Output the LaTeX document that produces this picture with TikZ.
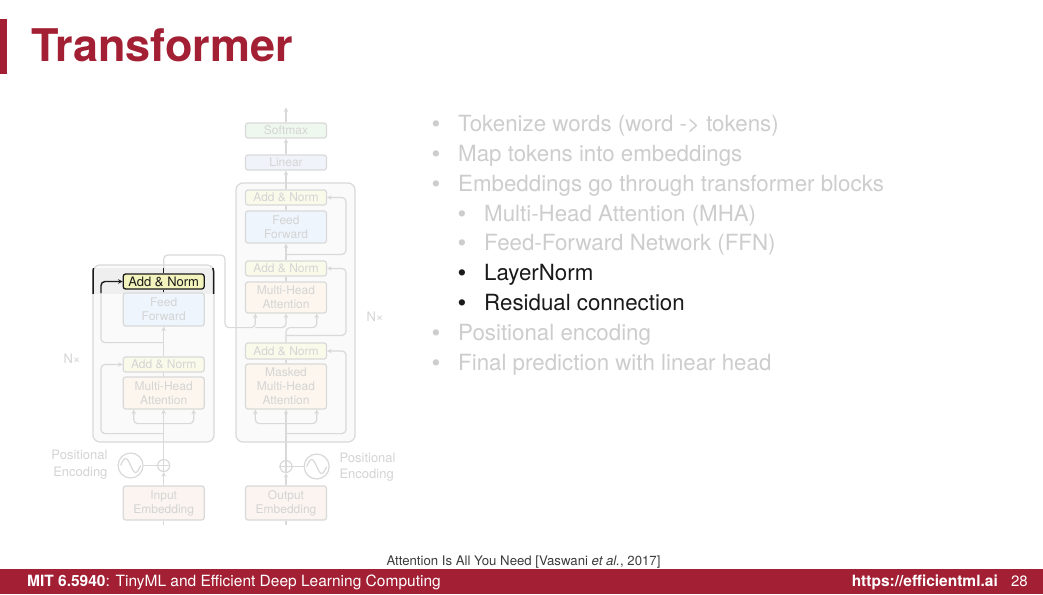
\documentclass[tikz,border=0pt]{standalone}
\usepackage{fontspec}
\setmainfont{TeX Gyre Heros}
\usetikzlibrary{arrows.meta,positioning,calc}
\definecolor{mitred}{HTML}{A31F34}
\definecolor{fadeline}{HTML}{D9D9D9}
\definecolor{fadetext}{HTML}{D4D4D4}
\definecolor{bullettext}{HTML}{CDCDCD}
\definecolor{framefill}{HTML}{FAFAFA}
\definecolor{bandfill}{HTML}{EFEFEF}
\definecolor{normfill}{HTML}{FAFAEB}
\definecolor{normhi}{HTML}{F3F3BD}
\definecolor{ffnfill}{HTML}{EEF5FC}
\definecolor{attnfill}{HTML}{FCF6EE}
\definecolor{softfill}{HTML}{EFF8EE}
\definecolor{linfill}{HTML}{F1F3FA}
\definecolor{embfill}{HTML}{FBF4F0}
\definecolor{ink}{HTML}{1A1A1A}

\begin{document}
\begin{tikzpicture}[x=1pt,y=-1pt,line cap=butt,
  blk/.style={draw=fadeline,line width=1.2pt,rounded corners=2.5pt,minimum width=81pt,inner sep=0pt,
    align=center,text=fadetext,font=\fontsize{12}{14}\selectfont},
  normbox/.style={blk,fill=normfill,minimum height=15pt},
  ffnbox/.style={blk,fill=ffnfill},
  attnbox/.style={blk,fill=attnfill},
  embbox/.style={blk,fill=embfill,minimum height=34pt},
  frame/.style={draw=fadeline,line width=1.2pt,fill=framefill,rounded corners=7pt},
  link/.style={draw=fadeline,line width=1.2pt,rounded corners=4pt},
  flow/.style={link,-{Stealth[length=4.5pt,width=4.5pt]}},
  hiline/.style={draw=ink,line width=1.4pt,rounded corners=4pt},
  plusnode/.style={circle,draw=fadeline,line width=1.2pt,minimum size=12pt,inner sep=0pt},
  sinnode/.style={circle,draw=fadeline,line width=1.2pt,minimum size=25pt,inner sep=0pt},
  side/.style={text=fadetext,font=\fontsize{13}{16.5}\selectfont},
  item/.style={anchor=base west,font=\fontsize{22.3}{24}\selectfont}]
  \useasboundingbox[fill=white] (0,0) rectangle (1043,594);

  % title and footer
  \fill[mitred] (0,19) rectangle (7,74);
  \node[anchor=base west,text=mitred,font=\fontsize{45}{45}\selectfont\bfseries,inner sep=0pt] (title) at (31,62) {Transformer};
  \fill[mitred] (0,568.5) rectangle (1043,594);
  \node[anchor=base west,text=white,font=\fontsize{15.5}{16}\selectfont,inner sep=0pt] (course) at (27,586.5)
    {\textbf{MIT 6.5940}: TinyML and Efficient Deep Learning Computing};
  \node[anchor=base east,text=white,font=\fontsize{15}{16}\selectfont,inner sep=0pt] (page) at (1028,586.5) {28};
  \node[anchor=base east,text=white,font=\fontsize{15.5}{16}\selectfont\bfseries,inner sep=0pt] (site) at (998,586.5) {https://efficientml.ai};
  \node[anchor=base,text=ink!85,font=\fontsize{13.2}{14}\selectfont,inner sep=0pt] (cite) at (523.5,565.5)
    {Attention Is All You Need [Vaswani \textit{et al.}, 2017]};

  % bullets
  \foreach \y/\bx/\col/\txt in {131.7/436/bullettext/Tokenize words (word -> tokens),
      161.5/436/bullettext/Map tokens into embeddings,
      191.3/436/bullettext/Embeddings go through transformer blocks,
      221.1/462/bullettext/Multi-Head Attention (MHA),
      250.9/462/bullettext/Feed-Forward Network (FFN),
      280.7/462/ink/LayerNorm,
      310.5/462/ink/Residual connection,
      340.3/436/bullettext/Positional encoding,
      370.1/436/bullettext/Final prediction with linear head}{
    \node[anchor=base,text=\col,font=\fontsize{25}{24}\selectfont,inner sep=0pt] at (\bx,\y+1) {\textbullet};
    \node[item,text=\col,inner sep=0pt] at (\bx+22,\y) {\txt};
  }

  % frames
  \draw[frame] (93,265) rectangle (214,442);
  \draw[frame] (236,183) rectangle (355,442);
  \coordinate (bandtop) at (0,268);
  \coordinate (bandbot) at (0,293);
  \coordinate (encL) at (101,0);
  \coordinate (decR) at (346,0);
  \begin{scope}
    \clip (85,268) rectangle (222,293);
    \fill[bandfill] (93,260) rectangle (213.5,330);
    \draw[draw=ink,line width=1.5pt,rounded corners=8pt] (93,263) rectangle (213.5,330);
  \end{scope}

  % encoder
  \node[normbox,draw=ink,line width=1.3pt,fill=normhi,text=ink,font=\fontsize{13}{14}\selectfont] (encAN2) at (163.7,281.5) {Add \& Norm};
  \node[ffnbox,minimum height=33pt] (encFF) at (163.7,309.5) {Feed\\Forward};
  \node[normbox] (encAN1) at (163.7,364.5) {Add \& Norm};
  \node[attnbox,minimum height=32pt] (encMHA) at (163.7,393) {Multi-Head\\Attention};
  \node[embbox] (inEmb) at (163.7,503) {Input\\Embedding};
  \node[plusnode] (encPlus) at (163.7,465.5) {};
  \node[sinnode] (encSin) at (130.6,465.5) {};
  \node[side,align=right,anchor=east] (encPos) at (111,464.5) {Positional\\Encoding};
  \node[side] (encN) at (72,359) {N\texttimes};

  % decoder
  \node[blk,fill=softfill,minimum height=15pt] (softmax) at (286,130.5) {Softmax};
  \node[blk,fill=linfill,minimum height=15pt] (linear) at (286,162.5) {Linear};
  \node[normbox] (decAN3) at (286,197.5) {Add \& Norm};
  \node[ffnbox,minimum height=32pt] (decFF) at (286,227) {Feed\\Forward};
  \node[normbox] (decAN2) at (286,268.5) {Add \& Norm};
  \node[attnbox,minimum height=31pt] (decMHA) at (286,297.5) {Multi-Head\\Attention};
  \node[normbox,minimum height=16pt] (decAN1) at (286,351) {Add \& Norm};
  \node[attnbox,minimum height=45pt] (decMMHA) at (286,386.5) {Masked\\Multi-Head\\Attention};
  \node[embbox] (outEmb) at (286,503) {Output\\Embedding};
  \node[plusnode] (decPlus) at (286,466.5) {};
  \node[sinnode] (decSin) at (316.7,466.5) {};
  \node[side,align=left,anchor=west] (decPos) at (336,467) {Positional\\Encoding};
  \node[side] (decN) at (375,317) {N\texttimes};

  % plus and sine glyphs
  \foreach \p in {encPlus,decPlus}{
    \draw[link] (\p.north) -- (\p.south) (\p.west) -- (\p.east);
  }
  \foreach \s in {encSin,decSin}{
    \draw[link,rounded corners=0pt] ($(\s.center)+(-10,0)$) sin ++(5,-7) cos ++(5,7) sin ++(5,7) cos ++(5,-7);
  }

  % encoder connections
  \draw[link] (inEmb.south) -- ++(0,4);
  \draw[flow] (inEmb.north) -- (encPlus.south);
  \draw[link] (encSin.east) -- (encPlus.west);
  \draw[flow] (encPlus.north) -- (encMHA.south);
  \foreach \dx in {-30,30}{
    \draw[flow] ($(encMHA.south)+(0,14)$) -| ($(encMHA.south)+(\dx,0)$);
  }
  \draw[flow] ($(encMHA.south)+(0,24)$) -| (encL |- encAN1.west) -- (encAN1.west);
  \draw[link] (encMHA.north) -- (encAN1.south);
  \draw[flow] (encAN1.north) -- (encFF.south);
  \draw[link] ($(encFF.south)+(0,16)$) -| (encL |- bandbot);
  \draw[hiline,-{Stealth[length=4.5pt,width=4.5pt]}] (encL |- bandbot) |- (encAN2.west);
  \draw[hiline] (encFF.north) -- (encAN2.south);
  \draw[hiline] (encAN2.north) -- (encAN2.north |- bandtop);
  \draw[link] (encAN2.north |- bandtop) |- (225,255) |- ($(decMHA.south)+(-30.7,14)$) -- ($(decMHA.south)+(-30.7,2)$);
  \draw[flow] ($(decMHA.south)+(-30.7,6)$) -- ($(decMHA.south)+(-30.7,0)$);
  \draw[flow] ($(decMHA.south)+(-30.7,14)$) -| (decMHA.south);

  % decoder connections
  \draw[link] (outEmb.south) -- ++(0,4);
  \draw[flow] (outEmb.north) -- (decPlus.south);
  \draw[link] (decSin.west) -- (decPlus.east);
  \draw[flow] (decPlus.north) -- (decMMHA.south);
  \foreach \dx in {-30.7,30.7}{
    \draw[flow] ($(decMMHA.south)+(0,14)$) -| ($(decMMHA.south)+(\dx,0)$);
  }
  \draw[flow] ($(decMMHA.south)+(0,24)$) -| (decR |- decAN1.east) -- (decAN1.east);
  \draw[link] (decMMHA.north) -- (decAN1.south);
  \draw[flow] (decAN1.north) |- ($(decMHA.south)+(30.7,14)$) -- ($(decMHA.south)+(30.7,0)$);
  \draw[flow] ($(decAN1.north)+(0,-7)$) -| (decR |- decAN2.east) -- (decAN2.east);
  \draw[link] (decMHA.north) -- (decAN2.south);
  \draw[flow] (decAN2.north) -- (decFF.south);
  \draw[flow] ($(decAN2.north)+(0,-6)$) -| (decR |- decAN3.east) -- (decAN3.east);
  \draw[link] (decFF.north) -- (decAN3.south);
  \draw[flow] (decAN3.north) -- (linear.south);
  \draw[flow] (linear.north) -- (softmax.south);
  \draw[flow] (softmax.north) -- ++(0,-15);
\end{tikzpicture}
\end{document}
